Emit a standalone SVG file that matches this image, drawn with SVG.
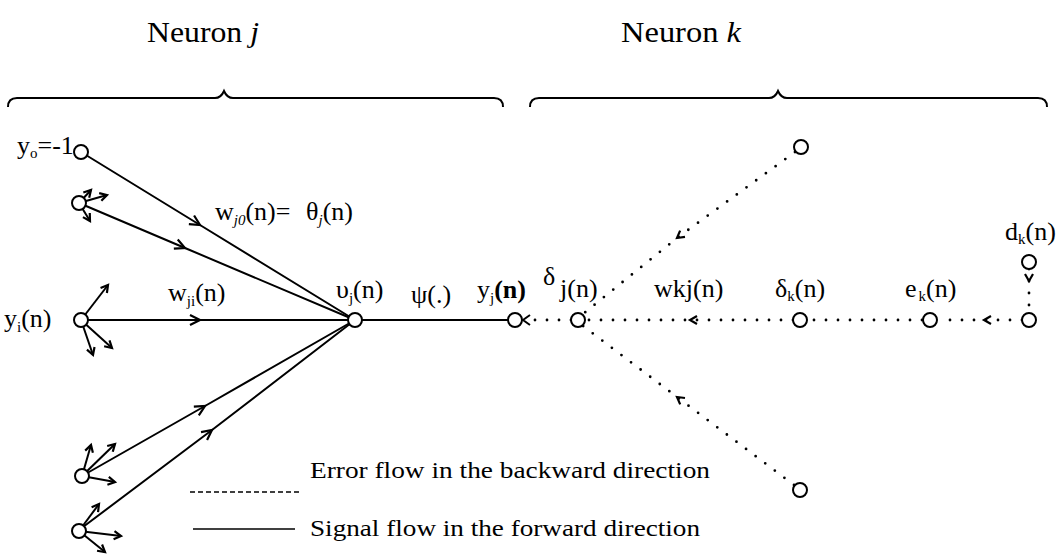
<svg xmlns="http://www.w3.org/2000/svg" width="1064" height="554" viewBox="0 0 1064 554" font-family="'Liberation Serif', 'Times New Roman', serif">
<style>
text{font-family:'Liberation Serif','Times New Roman',serif;fill:#000}
.lbl{font-size:26px}
.sub{font-size:15px}
.it{font-style:italic}
.title{font-size:30px}
.leg{font-size:24px}
.node{fill:#fff;stroke:#000;stroke-width:2}
.sig{stroke:#000;stroke-width:2;fill:none}
.err{stroke:#000;stroke-width:2.8;fill:none;stroke-dasharray:0 12;stroke-linecap:round}
.brace{stroke:#000;stroke-width:2;fill:none}
</style>
<defs>
<marker id="ah" markerUnits="userSpaceOnUse" viewBox="-12 -7 14 14" markerWidth="14" markerHeight="14" refX="0" refY="0" orient="auto" overflow="visible">
<path d="M-10,-5 L0,0 L-10,5" fill="none" stroke="#000" stroke-width="2.2"/>
</marker>
<marker id="ahs" markerUnits="userSpaceOnUse" viewBox="-10 -6 12 12" markerWidth="12" markerHeight="12" refX="0" refY="0" orient="auto" overflow="visible">
<path d="M-7,-4 L0,0 L-7,4" fill="none" stroke="#000" stroke-width="2.2"/>
</marker>
</defs>

<g id="titles">
<text class="title" x="147" y="42" textLength="112" lengthAdjust="spacingAndGlyphs">Neuron <tspan class="it">j</tspan></text>
<text class="title" x="621" y="42" textLength="120" lengthAdjust="spacingAndGlyphs">Neuron <tspan class="it">k</tspan></text>
<path class="brace" d="M8,107 Q8,98 17,98 L215,98 Q221,98 224,91 Q227,98 233,98 L494,98 Q503,98 503,107"/>
<path class="brace" d="M530,107 Q530,98 539,98 L769,98 Q775,98 778,91 Q781,98 787,98 L1038,98 Q1047,98 1047,107"/>
</g>

<g id="connectors">
<path class="sig" d="M81,152 L200,225 L355,320" marker-mid="url(#ah)"/>
<path class="sig" d="M79,203 L185,248 L355,320" marker-mid="url(#ah)"/>
<path class="sig" d="M81,320 L200,320 L355,320" marker-mid="url(#ah)"/>
<path class="sig" d="M82,476 L205,406 L355,320" marker-mid="url(#ah)"/>
<path class="sig" d="M79,530 L212,430 L355,320" marker-mid="url(#ah)"/>
<path class="sig" d="M355,320 L515,320"/>
<path class="sig" d="M79,203 L91,190" marker-end="url(#ahs)"/>
<path class="sig" d="M79,203 L107,195" marker-end="url(#ahs)"/>
<path class="sig" d="M79,203 L90,221" marker-end="url(#ahs)"/>
<path class="sig" d="M81,320 L108,285" marker-end="url(#ahs)"/>
<path class="sig" d="M81,320 L93,355" marker-end="url(#ahs)"/>
<path class="sig" d="M81,320 L112,348" marker-end="url(#ahs)"/>
<path class="sig" d="M82,476 L91,445" marker-end="url(#ahs)"/>
<path class="sig" d="M82,476 L115,444" marker-end="url(#ahs)"/>
<path class="sig" d="M82,476 L115,482" marker-end="url(#ahs)"/>
<path class="sig" d="M79,531 L99,504" marker-end="url(#ahs)"/>
<path class="sig" d="M79,531 L121,536" marker-end="url(#ahs)"/>
<path class="sig" d="M79,531 L105,552" marker-end="url(#ahs)"/>
<path class="err" d="M571,320 L523,320"/>
<path class="sig" d="M530,315 L523,320 L530,325"/>
<path class="err" d="M793,320 L690,320 L585,320" marker-mid="url(#ahs)"/>
<path class="err" d="M922,320 L807,320"/>
<path class="err" d="M1022,320 L984,320 L938,320" marker-mid="url(#ahs)"/>
<path class="err" d="M1029,269 L1029,281 L1029,313" marker-mid="url(#ahs)"/>
<path class="err" d="M795,152 L677,238 L583,314" marker-mid="url(#ahs)"/>
<path class="err" d="M794,485 L677,397 L583,326" marker-mid="url(#ahs)"/>
</g>

<g id="n-y0"><circle class="node" cx="81" cy="152" r="7"/></g>
<g id="n-in2"><circle class="node" cx="79" cy="203" r="7"/></g>
<g id="n-yi"><circle class="node" cx="81" cy="320" r="7"/></g>
<g id="n-in4"><circle class="node" cx="82" cy="476" r="7"/></g>
<g id="n-in5"><circle class="node" cx="79" cy="531" r="7"/></g>
<g id="n-vj"><circle class="node" cx="355" cy="320" r="7"/></g>
<g id="n-yj"><circle class="node" cx="515" cy="320" r="7"/></g>
<g id="n-dj"><circle class="node" cx="578" cy="320" r="7"/></g>
<g id="n-dk"><circle class="node" cx="800" cy="320" r="7"/></g>
<g id="n-ek"><circle class="node" cx="930" cy="320" r="7"/></g>
<g id="n-out"><circle class="node" cx="1029" cy="320" r="7"/></g>
<g id="n-d"><circle class="node" cx="1029" cy="262" r="7"/></g>
<g id="n-top"><circle class="node" cx="801" cy="147" r="7"/></g>
<g id="n-bot"><circle class="node" cx="800" cy="490" r="7"/></g>

<g id="labels">
<text class="lbl" x="17" y="154">y<tspan class="sub" dy="4">o</tspan><tspan dy="-4">=-1</tspan></text>
<text class="lbl" x="215" y="220">w<tspan class="sub it" dy="5">j0</tspan><tspan dy="-5">(n)=</tspan><tspan x="306">θ</tspan><tspan class="sub it" dy="5">j</tspan><tspan dy="-5">(n)</tspan></text>
<text class="lbl" x="168" y="301">w<tspan class="sub" dy="5">ji</tspan><tspan dy="-5">(n)</tspan></text>
<text class="lbl" x="4" y="327">y<tspan class="sub" dy="5">i</tspan><tspan dy="-5">(n)</tspan></text>
<text class="lbl" x="336" y="298">υ<tspan class="sub" dy="5">j</tspan><tspan dy="-5">(n)</tspan></text>
<text class="lbl" x="411" y="303">ψ(.)</text>
<text class="lbl" x="477" y="298">y<tspan class="sub" dy="5">j</tspan><tspan dy="-5" font-weight="bold">(n)</tspan></text>
<text class="lbl" x="543" y="285">δ</text>
<text class="lbl" x="560" y="297">j(n)</text>
<text class="lbl" x="654" y="297">wkj(n)</text>
<text class="lbl" x="775" y="297">δ<tspan class="sub" dy="4">k</tspan><tspan dy="-4">(n)</tspan></text>
<text class="lbl" x="905" y="297">e<tspan class="sub" dy="4" dx="2">k</tspan><tspan dy="-4">(n)</tspan></text>
<text class="lbl" x="1005" y="240">d<tspan class="sub" dy="4">k</tspan><tspan dy="-4">(n)</tspan></text>
</g>

<g id="legend">
<line x1="190" y1="492" x2="300" y2="492" stroke="#000" stroke-width="1.5" stroke-dasharray="5 3"/>
<line x1="193" y1="529" x2="295" y2="529" stroke="#000" stroke-width="1.5"/>
<text class="leg" x="310" y="478" textLength="400" lengthAdjust="spacingAndGlyphs">Error flow in the backward direction</text>
<text class="leg" x="310" y="536" textLength="390" lengthAdjust="spacingAndGlyphs">Signal flow in the forward direction</text>
</g>
</svg>
